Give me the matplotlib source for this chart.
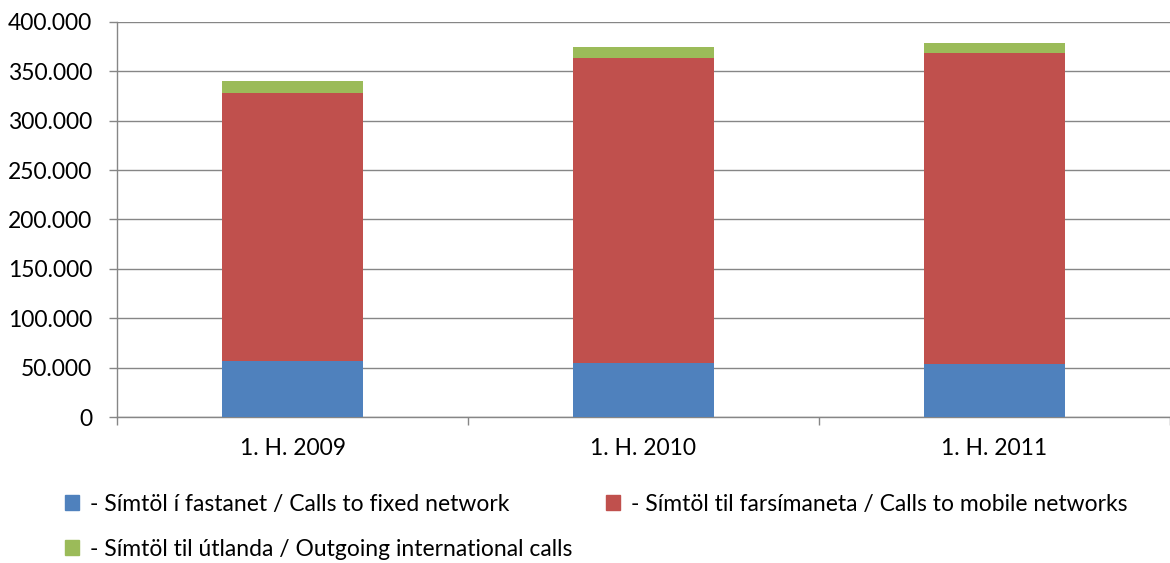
import matplotlib.pyplot as plt
from matplotlib.patches import Patch
from matplotlib.ticker import FuncFormatter, FixedLocator
import numpy as np

# Values (number of calls)
periods = ['1. H. 2009', '1. H. 2010', '1. H. 2011']
fixed = [57100, 54500, 53400]
mobile = [271200, 308600, 315100]
international = [11500, 11100, 9800]

labels = ['- Símtöl í fastanet / Calls to fixed network',
          '- Símtöl til farsímaneta / Calls to mobile networks',
          '- Símtöl til útlanda / Outgoing international calls']
colors = ['#4F81BD', '#C0504D', '#9BBB59']

plt.rcParams['font.family'] = ['Lato', 'DejaVu Sans']
plt.rcParams['font.size'] = 16.5

fig = plt.figure(figsize=(11.7, 5.63), dpi=100)
ax = fig.add_axes([117 / 1170, 1 - 417 / 563, 1053 / 1170, 395 / 563])

x = np.arange(len(periods))
w = 0.4
ax.bar(x, fixed, w, color=colors[0], zorder=3)
ax.bar(x, mobile, w, bottom=fixed, color=colors[1], zorder=3)
bottom2 = np.array(fixed) + np.array(mobile)
ax.bar(x, international, w, bottom=bottom2, color=colors[2], zorder=3)

ax.set_xlim(-0.5, 2.5)
ax.set_ylim(0, 400000)
ax.set_yticks(np.arange(0, 400001, 50000))
ax.yaxis.set_major_formatter(FuncFormatter(lambda v, p: f'{int(v):,}'.replace(',', '.')))
ax.grid(axis='y', color='#868686', linewidth=1, zorder=0)

ax.set_xticks(x)
ax.set_xticklabels(periods)
ax.xaxis.set_minor_locator(FixedLocator([-0.5, 0.5, 1.5, 2.5]))
ax.tick_params(axis='x', which='major', length=0, pad=15)
ax.tick_params(axis='x', which='minor', length=6, color='#868686', width=1)
ax.tick_params(axis='y', length=6, color='#868686', width=1, pad=12)

for s in ['top', 'right']:
    ax.spines[s].set_visible(False)
for s in ['left', 'bottom']:
    ax.spines[s].set_color('#868686')
    ax.spines[s].set_linewidth(1)

# legend: one entry per box so each can sit where the original has it
spots = [(65 / 1170, 1 - 504 / 563), (606 / 1170, 1 - 504 / 563), (65 / 1170, 1 - 549 / 563)]
for lab, col, pos in zip(labels, colors, spots):
    fig.legend(handles=[Patch(color=col, label=lab)], loc='center left',
               bbox_to_anchor=pos, frameon=False, borderpad=0, borderaxespad=0,
               handlelength=0.6, handleheight=0.6, handletextpad=0.5)

fig.savefig('out.png', dpi=100)
